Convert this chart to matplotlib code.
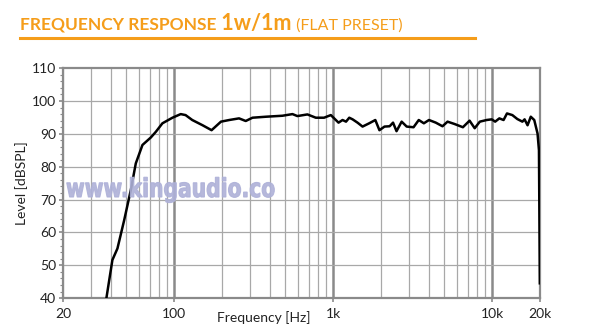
import matplotlib.pyplot as plt
from matplotlib.ticker import FixedLocator, NullFormatter
from matplotlib.textpath import TextPath
from matplotlib.patches import PathPatch
from matplotlib.font_manager import FontProperties
from matplotlib.transforms import Affine2D

# frequency response
freq = [37.5, 40.9, 44, 48.5, 53.4, 57.4, 63.2, 71.4, 76.7, 84.4, 97.6, 110, 118, 130,
        151, 172, 197, 222, 256, 282, 311, 378, 480, 555, 596, 689, 778, 877, 967,
        1081, 1146, 1205, 1263, 1326, 1423, 1531, 1686, 1842, 1955, 2104, 2266, 2381,
        2504, 2697, 2902, 3204, 3455, 3721, 4007, 4421, 4873, 5243, 5790, 6548, 7212,
        7767, 8367, 9232, 9942, 10450, 11100, 11800, 12400, 13400, 14400, 15500,
        16000, 16700, 17500, 18400, 19300, 19700, 19950]
level = [40, 51.6, 55.1, 63.7, 72.9, 81, 86.6, 88.9, 90.6, 93.2, 94.9, 96.0, 95.7, 94.2,
         92.6, 91.1, 93.7, 94.2, 94.7, 93.9, 94.9, 95.2, 95.5, 96.0, 95.4, 95.9, 94.9,
         94.9, 95.7, 93.4, 94.2, 93.7, 94.9, 94.4, 93.4, 92.2, 93.2, 94.2, 91.1, 92.2,
         92.3, 93.4, 90.8, 93.7, 92.2, 92.0, 94.2, 93.2, 94.2, 93.4, 92.3, 93.7, 93.0,
         92.0, 94.0, 91.7, 93.7, 94.2, 94.4, 93.7, 94.7, 94.2, 96.2, 95.7, 94.5, 93.7,
         94.4, 92.6, 95.2, 94.2, 90.1, 85.0, 44.5]

x_ticks = [20, 100, 1000, 10000, 20000]
x_labels = ['20', '100', '1k', '10k', '20k']
y_ticks = [40, 50, 60, 70, 80, 90, 100, 110]

orange = '#f59d1a'
grid_c = '#a8a8a8'
dark_c = '#8a8a8a'

fig = plt.figure(figsize=(6, 3.29), dpi=100)
ax = fig.add_axes([0.105, 0.094, 0.795, 0.699])

ax.set_xscale('log')
ax.set_xlim(20, 20000)
ax.set_ylim(40, 110)

# grid: every 10 in each decade, darker at decades
minor = [m * d for d in (10, 100, 1000, 10000) for m in range(2, 10)]
minor = [v for v in minor if 20 <= v <= 20000]
for v in minor:
    ax.axvline(v, color=grid_c, lw=0.9, zorder=1)
for v in (100, 1000, 10000):
    ax.axvline(v, color=dark_c, lw=1.8, zorder=1)
for v in y_ticks[1:-1]:
    ax.axhline(v, color=grid_c, lw=0.9, zorder=1)

ax.plot(freq, level, color='black', lw=1.8, zorder=3, solid_joinstyle='round')

ax.set_xticks(x_ticks)
ax.set_xticklabels(x_labels)
ax.xaxis.set_minor_locator(FixedLocator([]))
ax.xaxis.set_minor_formatter(NullFormatter())
ax.set_yticks(y_ticks)
ax.yaxis.set_minor_locator(FixedLocator(list(range(40, 111, 2))))
ax.tick_params(axis='both', which='major', direction='out', length=3, width=1.2,
               color=dark_c, labelsize=10, labelcolor='#222222', pad=2)
ax.tick_params(axis='y', which='minor', direction='out', length=2, width=0.8, color=dark_c)
ax.tick_params(axis='x', pad=4)
for s in ax.spines.values():
    s.set_color(dark_c)
    s.set_linewidth(1.6)
for lab in ax.get_xticklabels() + ax.get_yticklabels():
    lab.set_family('Lato')

ax.set_ylabel('Level [dBSPL]', fontsize=10, family='Lato', color='#222222', labelpad=3)
ax.text(0.42, -0.055, 'Frequency [Hz]', transform=ax.transAxes, ha='center', va='top',
        fontsize=10, family='Lato', color='#222222')

# watermark: condensed bold text drawn as a path in pixel space
tp = TextPath((0, 0), 'www.kingaudio.co', size=26,
              prop=FontProperties(family='DejaVu Sans', weight='bold'))
wm = Affine2D().scale(0.78, 1.0).translate(66, 329 - 197)
fig.add_artist(PathPatch(tp, transform=wm, facecolor='#aeb1d8', edgecolor='#aeb1d8',
                         lw=0.8, alpha=0.9, zorder=2.5))

# title
t1 = fig.text(20 / 600, 1 - 30 / 329, 'FREQUENCY RESPONSE', fontsize=12.5, fontweight='bold',
              color=orange, family='Lato', va='baseline')
t2 = fig.text(0, 0, ' 1w/1m', fontsize=15.5, fontweight='bold', color=orange, family='Lato',
              va='baseline')
t3 = fig.text(0, 0, ' (FLAT PRESET)', fontsize=11.5, color=orange, family='Lato', va='baseline')
fig.canvas.draw()
r = fig.canvas.get_renderer()
bb = t1.get_window_extent(r)
t2.set_position((bb.x1 / fig.bbox.width, 1 - 30 / 329))
bb = t2.get_window_extent(r)
t3.set_position((bb.x1 / fig.bbox.width, 1 - 30 / 329))

fig.add_artist(plt.Line2D([20 / 600, 475 / 600], [1 - 38 / 329, 1 - 38 / 329],
                          color=orange, lw=2.2))

fig.savefig('out.png', dpi=100, facecolor='white')
